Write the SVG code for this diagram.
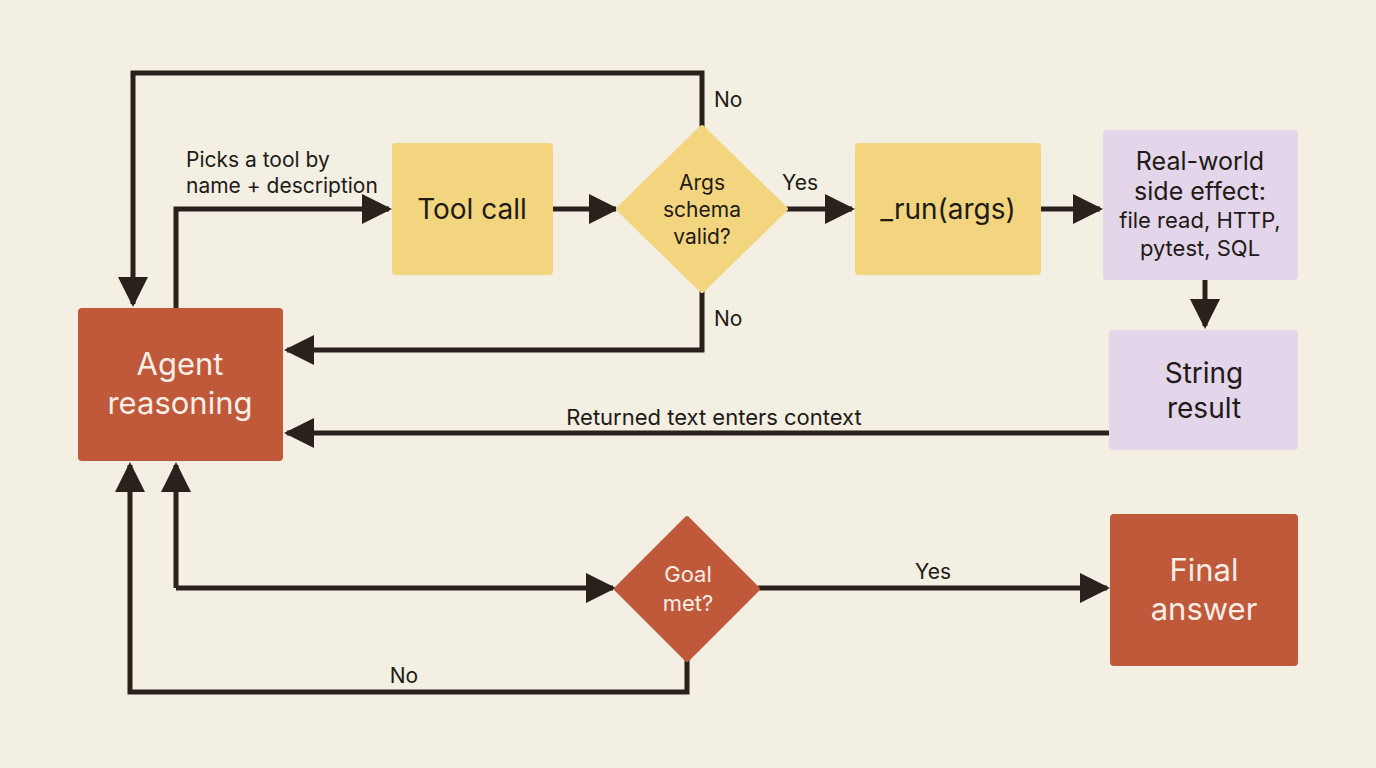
<svg xmlns="http://www.w3.org/2000/svg" width="1376" height="768" viewBox="0 0 1376 768">
<style>
.t{font-family:Inter,"Liberation Sans",sans-serif;fill:#221a16}
.w{font-family:Inter,"Liberation Sans",sans-serif;fill:#fbeee6}
.c{fill:none;stroke:#2a211c;stroke-width:5}
</style>
<defs>
<marker id="a" viewBox="0 0 10 10" refX="9" refY="5" markerWidth="6" markerHeight="6" markerUnits="strokeWidth" orient="auto"><path d="M0,0 L10,5 L0,10 Z" fill="#2a211c"/></marker>
</defs>
<rect width="1376" height="768" fill="#F3EFE2"/>
<g id="connectors">
<path class="c" d="M702,127 V73 H133 V304" marker-end="url(#a)"/>
<path class="c" d="M176,308 V209 H389" marker-end="url(#a)"/>
<path class="c" d="M553,209 H616" marker-end="url(#a)"/>
<path class="c" d="M786,209 H852" marker-end="url(#a)"/>
<path class="c" d="M1041,209 H1100" marker-end="url(#a)"/>
<path class="c" d="M702,291 V350 H287" marker-end="url(#a)"/>
<path class="c" d="M1205,280 V326" marker-end="url(#a)"/>
<path class="c" d="M1109,433 H287" marker-end="url(#a)"/>
<path class="c" d="M176,588 V465" marker-end="url(#a)"/>
<path class="c" d="M176,588 H613" marker-end="url(#a)"/>
<path class="c" d="M758,588 H1107" marker-end="url(#a)"/>
<path class="c" d="M687,660 V692 H130 V465" marker-end="url(#a)"/>
<text class="t" x="714" y="107" font-size="21">No</text>
<text class="t" x="186" y="167" font-size="21">Picks a tool by</text>
<text class="t" x="186" y="193" font-size="21">name + description</text>
<text class="t" x="782" y="190" font-size="21">Yes</text>
<text class="t" x="714" y="326" font-size="21">No</text>
<text class="t" x="714" y="425" font-size="22" text-anchor="middle">Returned text enters context</text>
<text class="t" x="933" y="579" font-size="21" text-anchor="middle">Yes</text>
<text class="t" x="404" y="683" font-size="21" text-anchor="middle">No</text>
</g>
<g id="agent"><rect x="78" y="308" width="205" height="153" rx="4" fill="#C0583A"/>
<text class="w" x="180" y="375" font-size="31" text-anchor="middle">Agent</text>
<text class="w" x="180" y="414" font-size="31" text-anchor="middle">reasoning</text></g>
<g id="toolcall"><rect x="392" y="143" width="161" height="132" rx="4" fill="#F2D57E"/>
<text class="t" x="472" y="219" font-size="28" text-anchor="middle">Tool call</text></g>
<g id="args"><path d="M702,127 L786,209 L702,291 L618,209 Z" fill="#F2D57E" stroke="#F2D57E" stroke-width="4" stroke-linejoin="round"/>
<text class="t" x="702" y="190" font-size="21" text-anchor="middle">Args</text>
<text class="t" x="702" y="217" font-size="21" text-anchor="middle">schema</text>
<text class="t" x="702" y="244" font-size="21" text-anchor="middle">valid?</text></g>
<g id="run"><rect x="855" y="143" width="186" height="132" rx="4" fill="#F2D57E"/>
<text class="t" x="948" y="219" font-size="28" text-anchor="middle">_run(args)</text></g>
<g id="real"><rect x="1103" y="130" width="195" height="150" rx="4" fill="#E3D5EA"/>
<text class="t" x="1200" y="170" font-size="25" text-anchor="middle">Real-world</text>
<text class="t" x="1200" y="200" font-size="25" text-anchor="middle">side effect:</text>
<text class="t" x="1200" y="228" font-size="22" text-anchor="middle">file read, HTTP,</text>
<text class="t" x="1200" y="256" font-size="22" text-anchor="middle">pytest, SQL</text></g>
<g id="string"><rect x="1109" y="330" width="189" height="120" rx="4" fill="#E3D5EA"/>
<text class="t" x="1204" y="383" font-size="28" text-anchor="middle">String</text>
<text class="t" x="1204" y="418" font-size="28" text-anchor="middle">result</text></g>
<g id="goal"><path d="M687,518 L758,589 L687,660 L616,589 Z" fill="#C0583A" stroke="#C0583A" stroke-width="4" stroke-linejoin="round"/>
<text class="w" x="688" y="582" font-size="22" text-anchor="middle">Goal</text>
<text class="w" x="688" y="611" font-size="22" text-anchor="middle">met?</text></g>
<g id="final"><rect x="1110" y="514" width="188" height="152" rx="4" fill="#C0583A"/>
<text class="w" x="1204" y="581" font-size="31" text-anchor="middle">Final</text>
<text class="w" x="1204" y="620" font-size="31" text-anchor="middle">answer</text></g>
</svg>
